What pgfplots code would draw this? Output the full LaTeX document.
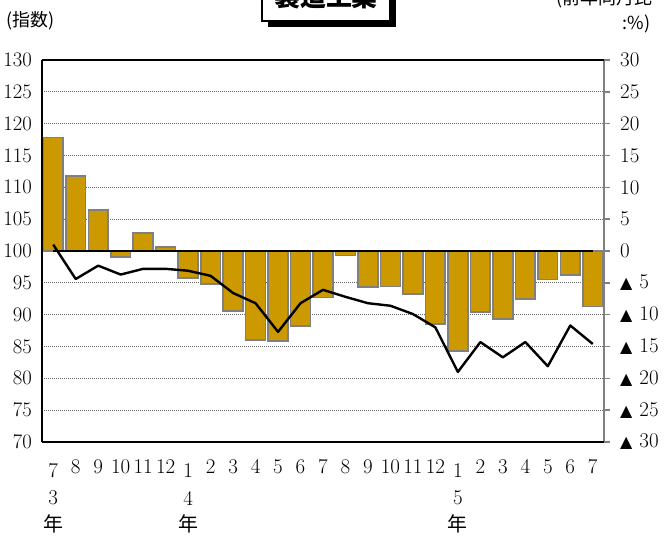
\documentclass[border=0pt]{standalone}
\usepackage{pgfplots}
\pgfplotsset{compat=1.18}
\usepackage{pgfplotstable}
\usepackage{fontspec}
\newfontfamily\cjk{Noto Sans CJK JP}
\newfontfamily\dejavu{DejaVu Sans}
\definecolor{barfill}{HTML}{CC9900}
\definecolor{baredge}{HTML}{808080}
\newcommand\tri{{\dejavu\fontsize{16}{16}\selectfont ▲}\hspace{7bp}}

% year-on-year change (%), right axis
\pgfplotstableread{
x yoy
0 17.8
1 11.8
2 6.4
3 -0.9
4 2.8
5 0.6
6 -4.2
7 -5.2
8 -9.4
9 -14.0
10 -14.1
11 -11.8
12 -7.3
13 -0.7
14 -5.7
15 -5.6
16 -6.8
17 -11.5
18 -15.7
19 -9.6
20 -10.7
21 -7.5
22 -4.5
23 -3.8
24 -8.7
}\yoytable

% index, left axis
\pgfplotstableread{
x idx
0 101.0
1 95.6
2 97.7
3 96.3
4 97.2
5 97.2
6 96.9
7 96.1
8 93.4
9 91.8
10 87.3
11 91.8
12 93.9
13 92.8
14 91.8
15 91.4
16 90.1
17 88.0
18 81.0
19 85.7
20 83.3
21 85.7
22 81.9
23 88.3
24 85.4
}\idxtable

\begin{document}
\begin{tikzpicture}
% ---------- right axis: bars ----------
\begin{axis}[
  at={(0,0)}, anchor=south west,
  scale only axis, width=562bp, height=382bp,
  xmin=-0.5, xmax=24.5, ymin=-30, ymax=30,
  axis x line=none,
  axis y line*=right,
  y axis line style={baredge, line width=2bp},
  ytick={-30,-25,...,30},
  yticklabels={{\tri 30},{\tri 25},{\tri 20},{\tri 15},{\tri 10},{\tri 5},0,5,10,15,20,25,30},
  yticklabel style={anchor=west, inner sep=0pt, xshift=10bp, font=\fontsize{21}{21}\selectfont},
  tick align=outside, major tick length=6bp,
  tick style={baredge, line width=1.5bp},
  ymajorgrids,
  grid style={black!60, line width=1bp, dash pattern=on 1.2bp off 0.8bp},
  clip=false,
]
\addplot[ybar, bar width=0.88, fill=barfill, draw=baredge, line width=1.6bp] table[x=x, y=yoy] {\yoytable};
\addplot[black, line width=2.6bp] coordinates {(0,0) (24,0)};
\end{axis}
% ---------- left axis: index line ----------
\begin{axis}[
  at={(0,0)}, anchor=south west,
  scale only axis, width=562bp, height=382bp,
  xmin=-0.5, xmax=24.5, ymin=70, ymax=130,
  axis x line*=bottom, axis y line*=left,
  axis line style={black, line width=1.8bp},
  ytick={70,75,...,130},
  yticklabel style={anchor=east, inner sep=0pt, xshift=-10bp, font=\fontsize{20}{20}\selectfont},
  xtick={0,...,24},
  xticklabels={\raisebox{-4bp}{7},8,9,10,11,12,\raisebox{-4bp}{1},2,3,4,5,6,7,8,9,10,11,12,\raisebox{-4bp}{1},2,3,4,5,6,7},
  xticklabel style={anchor=base, inner sep=0pt, yshift=-31bp, font=\fontsize{21}{21}\selectfont},
  major tick length=0pt,
  clip=false,
]
\addplot[black, line width=2.4bp, line join=round] table[x=x, y=idx] {\idxtable};
\draw[black, line width=1.8bp] (rel axis cs:0,1) -- (rel axis cs:1,1);
\node[font=\fontsize{21}{21}\selectfont, yshift=-56bp] at (axis cs:0,70) {3};
\node[font=\fontsize{21}{21}\selectfont, yshift=-56bp] at (axis cs:6,70) {4};
\node[font=\fontsize{21}{21}\selectfont, yshift=-56bp] at (axis cs:18,70) {5};
\node[font=\cjk\fontsize{20}{20}\selectfont, yshift=-82bp] at (axis cs:0,70) {年};
\node[font=\cjk\fontsize{20}{20}\selectfont, yshift=-82bp] at (axis cs:6,70) {年};
\node[font=\cjk\fontsize{20}{20}\selectfont, yshift=-82bp] at (axis cs:18,70) {年};
\end{axis}
% ---------- titles ----------
\fill[black] (226bp,415bp) rectangle (354bp,470bp);
\draw[black, line width=2bp, fill=white] (220bp,421bp) rectangle (348bp,475bp);
\node[font=\cjk\bfseries\fontsize{26}{26}\selectfont] at (284bp,445bp) {製造工業};
\node[anchor=west, font=\cjk\fontsize{18}{18}\selectfont] at (-39bp,421bp) {(指数)};
\node[anchor=east, font=\cjk\fontsize{18}{18}\selectfont] at (614bp,443bp) {(前年同月比};
\node[anchor=east, font=\cjk\fontsize{18}{18}\selectfont] at (612bp,418bp) {:\%)};
\pgfresetboundingbox
\useasboundingbox (-42bp,-94bp) rectangle (630bp,442bp);
\end{tikzpicture}
\end{document}
